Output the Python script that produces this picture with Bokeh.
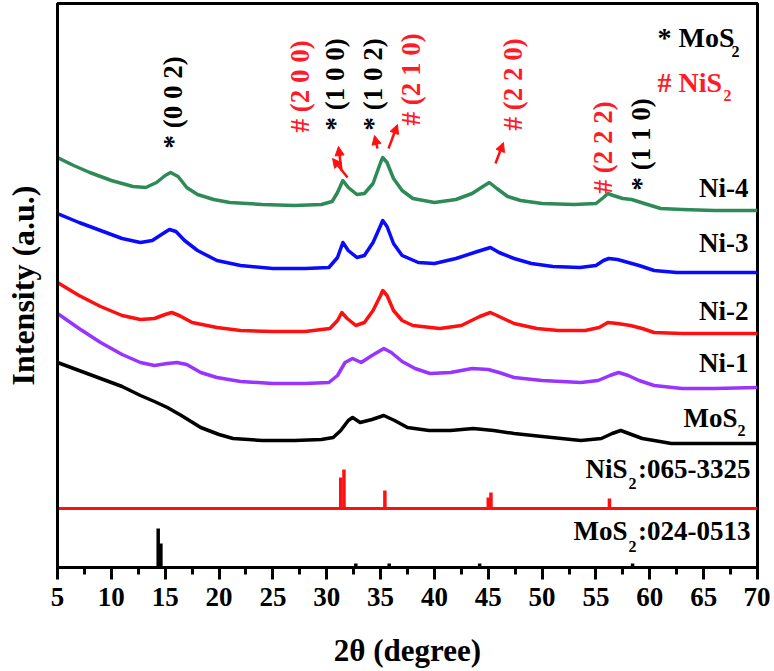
from math import pi
from bokeh.plotting import figure
from bokeh.models import Range1d, SingleIntervalTicker, FixedTicker, Label, Arrow, NormalHead
from bokeh.embed import file_html
from bokeh.resources import INLINE

FONT = "Liberation Serif"

# ---------------- data (2theta in degree, intensity in a.u., stacked) ----------------
tt_ni4 = [5.0, 6.5, 8, 10, 12, 13.2, 14.2, 15.0, 15.5, 16.2, 17.0, 18.0, 19.5, 21, 24, 27, 29.5, 30.5,
          31.0, 31.5, 32.0, 32.8, 33.5, 34.3, 35.0, 35.2, 35.6, 36.2, 37.0, 38.0, 40.0, 42.0, 43.5, 44.5,
          45.1, 45.8, 46.8, 48.0, 50.0, 53.0, 55.0, 55.7, 56.1, 56.6, 57.5, 58.3, 59.5, 61.0, 63.0, 66, 70]
int_ni4 = [410, 402, 395, 387, 381, 380, 385, 392, 395, 391, 380, 373, 368, 365, 363, 362, 363, 366,
           375, 387, 380, 373, 374, 384, 405, 410, 405, 389, 377, 369, 365, 368, 374, 381,
           385, 379, 371, 367, 364, 363, 364, 370, 374, 372, 369, 368, 364, 359, 358, 357, 357]

tt_ni3 = [5, 7, 9, 11, 12.7, 13.8, 14.8, 15.4, 16.0, 16.8, 18.0, 19.8, 22, 25, 28, 30.2, 31.0, 31.5,
          32.0, 32.8, 33.5, 34.3, 35.0, 35.2, 35.6, 36.2, 37.0, 38.5, 40.0, 42.0, 44.0, 45.2, 46.0, 47.4,
          49, 51, 53.5, 55.0, 55.7, 56.2, 57.0, 58.0, 59.0, 60.4, 62.5, 66, 70]
int_ni3 = [354, 345, 337, 329, 325, 327, 334, 338, 336, 327, 317, 307, 302, 299, 299, 300, 310, 325,
           317, 310, 312, 325, 342, 347, 341, 324, 312, 305, 304, 309, 316, 320, 315, 309,
           304, 301, 300, 302, 307, 309, 308, 305, 302, 297, 295, 295, 295]

tt_ni2 = [5, 7, 9, 11, 12.7, 14.0, 15.0, 15.6, 16.3, 17.5, 19.8, 22, 25, 28, 30.3, 31.0, 31.4, 31.9,
          32.7, 33.5, 34.3, 35.0, 35.2, 35.6, 36.2, 37.0, 38.0, 40.5, 42.5, 44.2, 45.2, 46.0, 47.4, 49.5,
          51.5, 54.0, 55.3, 56.1, 57.0, 58.2, 59.3, 60.4, 63, 70]
int_ni2 = [285, 272, 261, 252, 248, 249, 253, 255, 252, 245, 240, 237, 236, 236, 239, 247, 255, 249,
           242, 245, 257, 272, 277, 272, 257, 247, 242, 239, 242, 251, 255, 251, 244, 239,
           237, 237, 240, 245, 244, 242, 239, 235, 234, 234]

tt_ni1 = [5, 7, 9, 11, 12.7, 14, 15.2, 16.1, 17.0, 18.3, 19.8, 22, 25, 28, 30.2, 31.0, 31.7, 32.4,
          33.2, 34.2, 35.3, 36.0, 37.0, 38.2, 39.6, 41.5, 43.5, 45.0, 46.0, 47.4, 50, 53.6, 55.2, 56.3,
          57.1, 58.0, 59.0, 60.4, 63, 66, 70]
int_ni1 = [254, 239, 225, 213, 205, 202, 204, 205, 203, 195, 190, 186, 184, 184, 185, 192, 205, 209,
           205, 212, 219, 215, 206, 199, 194, 195, 199, 198, 195, 190, 187, 185, 187, 192,
           195, 192, 187, 182, 179, 179, 180]

tt_mos2 = [5, 7, 9, 11, 12.7, 14.0, 15.2, 16.5, 18.3, 20, 21.3, 24, 27, 29.5, 30.6, 31.3, 32.0, 32.4,
           33.1, 34.2, 35.3, 36.3, 37.5, 39.5, 41.5, 43.6, 45.5, 47.4, 50, 53.6, 55.5, 56.5, 57.3, 58.3,
           59.3, 60.4, 62, 66, 70]
int_mos2 = [205, 197, 189, 181, 172, 166, 160, 152, 140, 133, 129, 127, 127, 128, 130, 137, 147, 150,
            145, 148, 152, 147, 140, 137, 137, 139, 137, 134, 131, 127, 129, 134, 137, 133,
            129, 127, 124, 124, 124]

# standard patterns (stick positions and heights)
nis2_std_tt = [31.3, 31.6, 35.4, 45.0, 45.25, 56.25]
nis2_std_h = [31, 39, 18, 11, 16, 10]
nis2_std_base = 59
mos2_std_tt = [14.35, 14.6, 32.7, 35.8, 44.2, 58.4]
mos2_std_h = [39, 24, 4, 4, 4, 4]
mos2_std_base = 0

# series labels
series_names = ["Ni-4", "Ni-3", "Ni-2", "Ni-1", "MoS"]
series_label_y = [380, 325, 257, 205, 150]

# peak index annotations
ann_text = ["* (0 0 2)", "# (2 0 0)", "* (1 0 0)", "* (1 0 2)", "# (2 1 0)", "# (2 2 0)", "# (2 2 2)", "* (1 1 0)"]
ann_x = [15.68, 27.56, 30.81, 34.25, 37.78, 47.25, 55.61, 59.14]
ann_y = [419, 435, 437, 437, 442, 437, 374, 377]
ann_red = [False, True, False, False, True, True, True, False]

# arrows (start -> end)
arr_x0 = [31.93, 31.37, 34.71, 35.74, 45.67]
arr_y0 = [390, 397, 419, 419, 404]
arr_x1 = [30.54, 31.09, 34.44, 36.57, 46.41]
arr_y1 = [409, 421, 432, 443, 425]

RED = "#ff1010"
RED_TXT = "#ff1a2a"

p = figure(width=770, height=671, output_backend="svg", toolbar_location=None,
           x_range=Range1d(5, 70), y_range=Range1d(0, 564),
           min_border_left=57, min_border_right=13, min_border_top=3, min_border_bottom=104)
p.background_fill_color = "white"
p.border_fill_color = "white"
p.xgrid.visible = False
p.ygrid.visible = False
p.outline_line_color = "black"
p.outline_line_width = 3
p.outline_line_alpha = 1

ya = p.yaxis[0]
ya.ticker = FixedTicker(ticks=[])
ya.major_tick_line_color = None
ya.minor_tick_line_color = None
ya.axis_line_width = 3
ya.axis_line_color = "black"
ya.axis_label = "Intensity (a.u.)"
ya.axis_label_text_font = FONT
ya.axis_label_text_font_style = "bold"
ya.axis_label_text_font_size = "32px"
ya.axis_label_text_color = "black"
ya.axis_label_standoff = 17

xa = p.xaxis[0]
xa.ticker = SingleIntervalTicker(interval=5, num_minor_ticks=2)
xa.axis_line_width = 3
xa.axis_line_color = "black"
xa.major_tick_line_width = 3
xa.minor_tick_line_width = 3
xa.major_tick_line_color = "black"
xa.minor_tick_line_color = "black"
xa.major_tick_in = 0
xa.major_tick_out = 12
xa.minor_tick_in = 0
xa.minor_tick_out = 7
xa.major_label_text_font = FONT
xa.major_label_text_font_style = "bold"
xa.major_label_text_font_size = "27px"
xa.major_label_text_color = "black"
xa.major_label_standoff = 8
xa.axis_label = "2θ (degree)"
xa.axis_label_text_font = FONT
xa.axis_label_text_font_style = "bold"
xa.axis_label_text_font_size = "31px"
xa.axis_label_text_color = "black"
xa.axis_label_standoff = 24

# curves
p.line(tt_mos2, int_mos2, line_width=3.5, color="black", line_join="round")
p.line(tt_ni1, int_ni1, line_width=3.5, color="#9933ff", line_join="round")
p.line(tt_ni2, int_ni2, line_width=3.5, color=RED, line_join="round")
p.line(tt_ni3, int_ni3, line_width=3.5, color="#0a0aff", line_join="round")
p.line(tt_ni4, int_ni4, line_width=3.5, color="#2e8b57", line_join="round")

# standard patterns
p.line([5, 70], [nis2_std_base, nis2_std_base], line_width=3, color=RED)
p.segment(x0=nis2_std_tt, y0=[nis2_std_base] * len(nis2_std_tt), x1=nis2_std_tt,
          y1=[nis2_std_base + h for h in nis2_std_h], line_width=3.5, color=RED)
p.segment(x0=mos2_std_tt, y0=[mos2_std_base] * len(mos2_std_tt), x1=mos2_std_tt,
          y1=[mos2_std_base + h for h in mos2_std_h], line_width=3.5, color="black")


def lab(x, y, text, size, color="black", align="left", baseline="middle", angle=0.0, xo=0, yo=0):
    p.add_layout(Label(x=x, y=y, text=text, text_font=FONT, text_font_style="bold",
                       text_font_size=f"{size}px", text_color=color, text_align=align,
                       text_baseline=baseline, angle=angle, x_offset=xo, y_offset=yo))


# series labels (right side)
for name, yy in zip(series_names[:4], series_label_y[:4]):
    lab(70, yy, name, 27, align="right", xo=-9)
lab(70, series_label_y[4], "MoS", 27, align="right", xo=-20)
lab(70, series_label_y[4] - 13, "2", 16, align="right", xo=-12)

# standard pattern labels
lab(70, 99, ":065-3325", 27, align="right", xo=-7)
lab(70, 84, "2", 16, align="right", xo=-121)
lab(70, 99, "NiS", 27, align="right", xo=-130)
lab(70, 37, ":024-0513", 27, align="right", xo=-7)
lab(70, 21, "2", 16, align="right", xo=-121)
lab(70, 37, "MoS", 27, align="right", xo=-130)

# legend for markers
lab(60.71, 530, "* MoS", 28)
lab(60.71, 516, "2", 16, xo=74)
lab(60.71, 485, "# NiS", 28, color=RED_TXT)
lab(60.71, 472, "2", 16, color=RED_TXT, xo=66)

# peak annotations (rotated)
for t, xx, yy, red in zip(ann_text, ann_x, ann_y, ann_red):
    lab(xx, yy, t, 27, color=RED_TXT if red else "black", align="left", angle=pi / 2)

# arrows
for xs, ys, xe, ye in zip(arr_x0, arr_y0, arr_x1, arr_y1):
    p.add_layout(Arrow(end=NormalHead(size=9, fill_color=RED, line_color=RED),
                       x_start=xs, y_start=ys, x_end=xe, y_end=ye,
                       line_color=RED, line_width=2.5))

open("out.html", "w").write(file_html(p, INLINE))
